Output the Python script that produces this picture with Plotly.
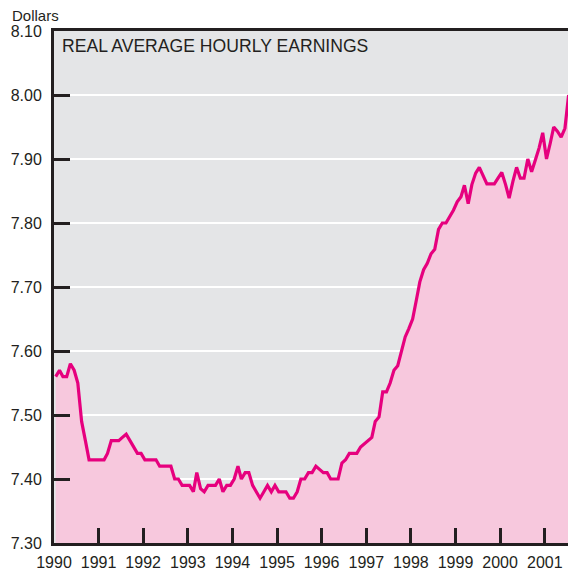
import pandas as pd
import plotly.graph_objects as go

# Monthly real average hourly earnings, Jan 1990 - Jul 2001 (dollars)
start_month = "1990-01"
earnings = [
    7.56, 7.57, 7.56, 7.56, 7.58, 7.57, 7.55, 7.49, 7.46, 7.43, 7.43, 7.43,   # 1990
    7.43, 7.43, 7.44, 7.46, 7.46, 7.46, 7.465, 7.47, 7.46, 7.45, 7.44, 7.44,  # 1991
    7.43, 7.43, 7.43, 7.43, 7.42, 7.42, 7.42, 7.42, 7.40, 7.40, 7.39, 7.39,   # 1992
    7.39, 7.38, 7.41, 7.385, 7.38, 7.39, 7.39, 7.39, 7.40, 7.38, 7.39, 7.39,  # 1993
    7.40, 7.42, 7.40, 7.41, 7.41, 7.39, 7.38, 7.37, 7.38, 7.39, 7.38, 7.39,   # 1994
    7.38, 7.38, 7.38, 7.37, 7.37, 7.38, 7.40, 7.40, 7.41, 7.41, 7.42, 7.415,  # 1995
    7.41, 7.41, 7.40, 7.40, 7.40, 7.425, 7.43, 7.44, 7.44, 7.44, 7.45, 7.455, # 1996
    7.46, 7.465, 7.49, 7.497, 7.536, 7.536, 7.55, 7.57, 7.577, 7.60, 7.622, 7.635,  # 1997
    7.65, 7.68, 7.708, 7.727, 7.737, 7.752, 7.759, 7.79, 7.80, 7.80, 7.81, 7.82,    # 1998
    7.833, 7.841, 7.859, 7.83, 7.86, 7.878, 7.887, 7.875, 7.861, 7.861, 7.861, 7.87, # 1999
    7.879, 7.86, 7.839, 7.865, 7.887, 7.87, 7.87, 7.90, 7.88, 7.898, 7.917, 7.941,   # 2000
    7.90, 7.925, 7.95, 7.943, 7.934, 7.948, 8.00,                                     # 2001
]
year_ticks = list(range(1990, 2002))
y_ticks = [7.30, 7.40, 7.50, 7.60, 7.70, 7.80, 7.90, 8.00, 8.10]
title_text = "REAL AVERAGE HOURLY EARNINGS"
unit_text = "Dollars"

# mid-month dates for each observation
dates = pd.date_range(start=start_month, periods=len(earnings), freq="MS") + pd.Timedelta(days=14)

INK = "#231f20"
SANS = "Liberation Sans, Arial, sans-serif"

W, H = 568, 571
ML, MR, MT, MB = 54, 0, 31, 28
PW, PH = W - ML - MR, H - MT - MB

fig = go.Figure()
fig.add_trace(go.Scatter(
    x=dates, y=earnings, mode="lines",
    line=dict(color="#e6007e", width=3.2),
    fill="tozeroy", fillcolor="#f7c8dd",
    hoverinfo="x+y",
))

fig.update_layout(
    width=W, height=H,
    margin=dict(l=ML, r=MR, t=MT, b=MB, autoexpand=False),
    paper_bgcolor="white",
    plot_bgcolor="#e4e5e7",
    showlegend=False,
    font=dict(family=SANS, size=16, color=INK),
)

fig.update_xaxes(
    type="date",
    range=["1990-01-01", "2001-07-10"],
    tickvals=[f"{y}-01-01" for y in year_ticks],
    ticktext=[str(y) for y in year_ticks],
    ticks="inside", ticklen=15, tickwidth=2.5, tickcolor=INK,
    showline=True, linewidth=3, linecolor=INK, mirror=True,
    showgrid=False, zeroline=False, automargin=False,
    tickfont=dict(family=SANS, size=16, color=INK),
    ticklabelstandoff=3,
)
fig.update_yaxes(
    range=[7.30, 8.10],
    tickvals=y_ticks,
    ticktext=[f"{v:.2f}" for v in y_ticks],
    ticks="inside", ticklen=16, tickwidth=2.5, tickcolor=INK,
    showline=True, linewidth=3, linecolor=INK, mirror=False,
    showgrid=True, gridcolor="white", gridwidth=2,
    zeroline=False, automargin=False,
    tickfont=dict(family=SANS, size=16, color=INK),
    ticklabelstandoff=6,
)

fig.add_annotation(
    text=title_text, xref="paper", yref="paper",
    x=(60 - ML) / PW, y=1 - (34 - MT) / PH,
    xanchor="left", yanchor="top", showarrow=False,
    font=dict(family=SANS, size=17.6, color=INK),
)
fig.add_annotation(
    text=unit_text, xref="paper", yref="paper",
    x=(10 - ML) / PW, y=1 + (MT - 15) / PH,
    xanchor="left", yanchor="middle", showarrow=False,
    font=dict(family=SANS, size=15, color=INK),
)

fig.write_html(
    "out.html",
    config={"displayModeBar": False},
    post_script="document.body.style.margin='0';document.body.style.overflow='hidden';",
)
